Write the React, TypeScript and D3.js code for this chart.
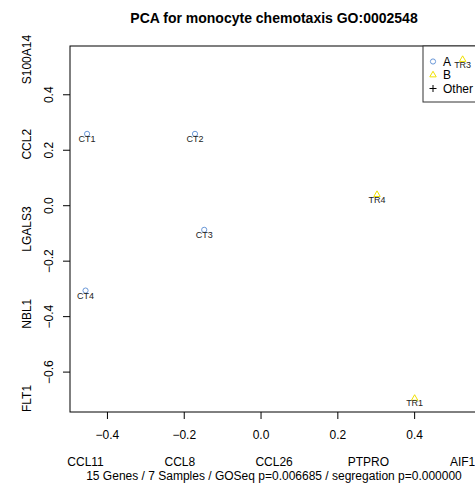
import * as d3 from "d3";
import React, { useEffect } from "react";

// sample scores on the first two components
const samples = ["CT1", "CT2", "CT3", "CT4", "TR1", "TR3", "TR4"];
const groups = ["A", "A", "A", "A", "B", "B", "B"];
const pc1 = [-0.453, -0.172, -0.148, -0.457, 0.4, 0.525, 0.302];
const pc2 = [0.259, 0.259, -0.087, -0.306, -0.695, 0.527, 0.04];

const xTicks = [-0.4, -0.2, 0.0, 0.2, 0.4];
const yTicks = [-0.6, -0.4, -0.2, 0.0, 0.2, 0.4];

// genes written along the axes, from low to high
const xGenes = ["CCL11", "CCL8", "CCL26", "PTPRO", "AIF1"];
const yGenes = ["FLT1", "NBL1", "LGALS3", "CCL2", "S100A14"];

const legendLabels = ["A", "B", "Other"];

const title = "PCA for monocyte chemotaxis GO:0002548";
const subtitle =
  "15 Genes / 7 Samples / GOSeq p=0.006685 / segregation p=0.000000";

const W = 475;
const H = 483;
const FONT = "'Liberation Sans', Arial, Helvetica, sans-serif";
const colA = "#6a98d8";
const colB = "#f0e000";

const App: React.FC = () => {
  useEffect(() => {
    document.body.style.margin = "0";
  }, []);

  const margin = { top: 46, right: -3, bottom: 71, left: 70 };
  const x0 = margin.left;
  const x1 = W - margin.right;
  const y0 = margin.top;
  const y1 = H - margin.bottom;

  // R style range with 4% padding
  const pad = (e: [number, number]) => {
    const d = (e[1] - e[0]) * 0.04;
    return [e[0] - d, e[1] + d];
  };
  const xExt = d3.extent(pc1) as [number, number];
  const yExt = d3.extent(pc2) as [number, number];

  const x = d3.scaleLinear().domain([-0.4975, 0.565]).range([x0, x1]);
  const y = d3.scaleLinear().domain(pad(yExt)).range([y1, y0]);

  const xGenePos = d3
    .range(xGenes.length)
    .map((i) => xExt[0] + (i * (xExt[1] - xExt[0])) / (xGenes.length - 1));
  const yGenePos = d3
    .range(yGenes.length)
    .map((i) => yExt[0] + (i * (yExt[1] - yExt[0])) / (yGenes.length - 1));

  const tri = d3.symbol(d3.symbolTriangle, 18)();

  const legX = 423;
  const legRows = [65.5, 79, 92.5];

  return (
    <svg
      width={W}
      height={H}
      style={{ position: "absolute", left: 0, top: 0, fontFamily: FONT }}
    >
      <rect width={W} height={H} fill="white" />
      <text
        x={(x0 + x1) / 2}
        y={22.5}
        textAnchor="middle"
        fontSize={14}
        fontWeight="bold"
      >
        {title}
      </text>

      {/* plot box */}
      <rect
        x={x0}
        y={y0}
        width={x1 - x0}
        height={y1 - y0}
        fill="none"
        stroke="black"
        strokeWidth={1}
      />

      {/* x axis */}
      {xTicks.map((t) => (
        <g key={"xt" + t}>
          <line x1={x(t)} x2={x(t)} y1={y1} y2={y1 + 7} stroke="black" />
          <text x={x(t)} y={439} textAnchor="middle" fontSize={12}>
            {d3.format(".1f")(t).replace("-", "\u2212")}
          </text>
        </g>
      ))}

      {/* y axis */}
      {yTicks.map((t) => (
        <g key={"yt" + t}>
          <line x1={x0 - 7} x2={x0} y1={y(t)} y2={y(t)} stroke="black" />
          <text
            transform={`translate(53,${y(t)}) rotate(-90)`}
            textAnchor="middle"
            fontSize={12}
          >
            {d3.format(".1f")(t).replace("-", "\u2212")}
          </text>
        </g>
      ))}

      {/* gene names */}
      {xGenes.map((g, i) => (
        <text
          key={g}
          x={x(xGenePos[i])}
          y={466}
          textAnchor="middle"
          fontSize={12}
        >
          {g}
        </text>
      ))}
      {yGenes.map((g, i) => (
        <text
          key={g}
          transform={`translate(31,${y(yGenePos[i])}) rotate(-90)`}
          textAnchor="middle"
          fontSize={12}
        >
          {g}
        </text>
      ))}

      <text x={(x0 + x1) / 2} y={480} textAnchor="middle" fontSize={12}>
        {subtitle}
      </text>

      {/* legend */}
      <rect
        x={legX}
        y={y0}
        width={x1 - legX}
        height={56}
        fill="white"
        stroke="#333"
      />
      {legendLabels.map((l, i) => (
        <g key={l}>
          {i === 0 && (
            <circle
              cx={legX + 10}
              cy={legRows[i] - 4}
              r={2.6}
              fill="none"
              stroke={colA}
            />
          )}
          {i === 1 && (
            <path
              d={tri}
              transform={`translate(${legX + 10},${legRows[i] - 4})`}
              fill="none"
              stroke={colB}
            />
          )}
          {i === 2 && (
            <path
              d={`M${legX + 6.5},${legRows[i] - 4}h7M${legX + 10},${
                legRows[i] - 7.5
              }v7`}
              stroke="black"
            />
          )}
          <text x={legX + 20} y={legRows[i]} fontSize={12}>
            {l}
          </text>
        </g>
      ))}

      {/* points */}
      {samples.map((s, i) => (
        <g key={s}>
          {groups[i] === "A" ? (
            <circle
              cx={x(pc1[i])}
              cy={y(pc2[i])}
              r={2.6}
              fill="none"
              stroke={colA}
            />
          ) : (
            <path
              d={tri}
              transform={`translate(${x(pc1[i])},${y(pc2[i])})`}
              fill="none"
              stroke={colB}
            />
          )}
          <text
            x={x(pc1[i])}
            y={y(pc2[i]) + 8}
            textAnchor="middle"
            fontSize={9}
            fill="#222"
          >
            {s}
          </text>
        </g>
      ))}
    </svg>
  );
};

export default App;
